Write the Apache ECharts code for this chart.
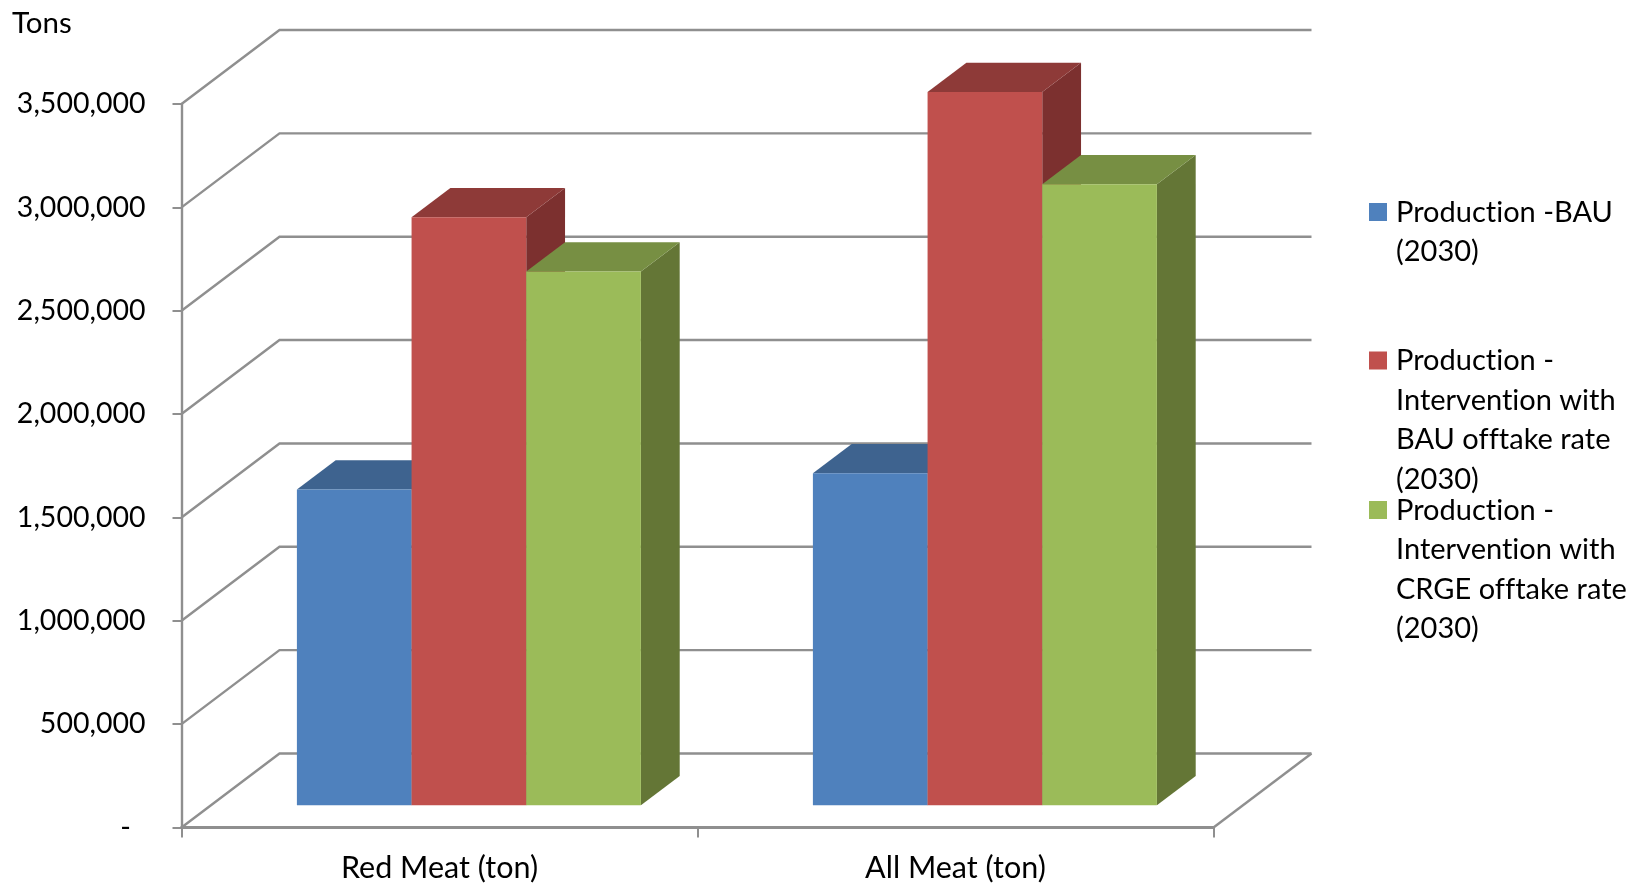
<!DOCTYPE html>
<html>
<head>
<meta charset="utf-8">
<style>html,body{margin:0;padding:0;background:#fff}#c{width:1630px;height:884px}</style>
<script src="https://cdn.jsdelivr.net/npm/echarts@6/dist/echarts.min.js"></script>
</head>
<body>
<div id="c"></div>
<script>
const categories = ['Red Meat (ton)', 'All Meat (ton)'];
const productionBAU = [1528000, 1606000];
const interventionBAU = [2845000, 3451000];
const interventionCRGE = [2582000, 3004000];
const valueTicks = [0, 500000, 1000000, 1500000, 2000000, 2500000, 3000000, 3500000];
const seriesNames = [
  'Production -BAU\n(2030)',
  'Production -\nIntervention with\nBAU offtake rate\n(2030)',
  'Production -\nIntervention with\nCRGE offtake rate\n(2030)'
];
const yTitle = 'Tons';

// The reference face has no "ti" ligature, so turn ligatures off on every canvas.
const nativeGetContext = HTMLCanvasElement.prototype.getContext;
HTMLCanvasElement.prototype.getContext = function (type, opts) {
  const ctx = nativeGetContext.call(this, type, opts);
  if (ctx && type === '2d') ctx.textRendering = 'optimizeSpeed';
  return ctx;
};

const FONT = 'Lato';
const GRID = '#8f8f8f';
const WALL_DX = 98, WALL_DY = -74;
const BAR_FRONT = 0.3, BAR_BACK = 0.696;
const palette = [
  {front: '#4F81BD', top: '#3E638F', side: '#37587F'},
  {front: '#C0504D', top: '#8E3A38', side: '#7C302F'},
  {front: '#9BBB59', top: '#778F43', side: '#647636'}
];

function poly(points, fill) {
  return {type: 'polygon', shape: {points}, style: {fill}, silent: true};
}
function barSeries(name, values, idx) {
  const c = palette[idx];
  return {
    type: 'custom', name, z: 3 + idx,
    itemStyle: {color: c.front},
    encode: {x: 0, y: 1},
    data: values.map((v, i) => [i, v]),
    renderItem(params, api) {
      const cat = api.value(0), val = api.value(1);
      const top = api.coord([cat, val]), base = api.coord([cat, 0]);
      const band = api.size([1, 0])[0];
      const w = band / 4.5;
      const x0 = top[0] - 1.5 * w + idx * w + WALL_DX * BAR_FRONT;
      const x1 = x0 + w;
      const yT = top[1] + WALL_DY * BAR_FRONT;
      const yB = base[1] + WALL_DY * BAR_FRONT;
      const dx = WALL_DX * (BAR_BACK - BAR_FRONT);
      const dy = WALL_DY * (BAR_BACK - BAR_FRONT);
      return {type: 'group', children: [
        poly([[x1, yT], [x1 + dx, yT + dy], [x1 + dx, yB + dy], [x1, yB]], c.side),
        poly([[x0, yT], [x0 + dx, yT + dy], [x1 + dx, yT + dy], [x1, yT]], c.top),
        poly([[x0, yT], [x1, yT], [x1, yB], [x0, yB]], c.front)
      ]};
    }
  };
}
const wallSeries = {
  type: 'custom', name: 'walls', z: 1, silent: true,
  encode: {x: 0, y: 1},
  data: valueTicks.map(v => [0, v]),
  renderItem(params, api) {
    const sys = params.coordSys;
    const y = api.coord([0, api.value(1)])[1];
    const left = sys.x, right = sys.x + sys.width;
    const children = [{
      type: 'polyline', silent: true,
      shape: {points: [[left, y], [left + WALL_DX, y + WALL_DY], [right + WALL_DX, y + WALL_DY]]},
      style: {stroke: GRID, lineWidth: 2.4, fill: null}
    }];
    if (api.value(1) === 0) {
      children.push({
        type: 'line', silent: true,
        shape: {x1: right, y1: y, x2: right + WALL_DX, y2: y + WALL_DY},
        style: {stroke: GRID, lineWidth: 2.4}
      });
    }
    return {type: 'group', children};
  }
};
function legendFor(i, top, lines) {
  const h = lines * 39.5;
  return {
    left: 1369, top, padding: 0, orient: 'vertical', selectedMode: false,
    itemWidth: 22, itemHeight: h,
    icon: `path://M0 0L0 0ZM0 10.5H18V28.5H0ZM22 ${h}L22 ${h}Z`,
    data: [seriesNames[i]],
    textStyle: {fontFamily: FONT, fontSize: 29, lineHeight: 39.5, color: '#000'}
  };
}
const chart = echarts.init(document.getElementById('c'), null, {renderer: 'canvas'});
chart.setOption({
  animation: false,
  backgroundColor: '#fff',
  title: {text: yTitle, left: 12, top: 8, padding: 0,
    textStyle: {fontFamily: FONT, fontSize: 29.5, fontWeight: 'normal', color: '#000'}},
  legend: [legendFor(0, 192.5, 2), legendFor(1, 341, 4), legendFor(2, 490.5, 4)],
  grid: {left: 181.5, top: 104, width: 1032, height: 723.5},
  xAxis: {
    type: 'category', data: categories,
    axisLine: {lineStyle: {color: GRID, width: 2.8}},
    axisTick: {show: true, length: 10, lineStyle: {color: GRID, width: 2}},
    axisLabel: {fontFamily: FONT, fontSize: 30.5, color: '#000', margin: 25},
    splitLine: {show: false}
  },
  yAxis: {
    type: 'value', min: 0, max: 3500000, interval: 500000,
    axisLine: {show: true, lineStyle: {color: GRID, width: 2.4}},
    axisTick: {show: true, length: 9, lineStyle: {color: GRID, width: 2}},
    axisLabel: {fontFamily: FONT, fontSize: 28.5, color: '#000', margin: 36, padding: [2, 0, 0, 0],
      formatter: v => v === 0 ? '-\u00a0\u00a0' : v.toLocaleString('en-US')},
    splitLine: {show: false}
  },
  series: [
    wallSeries,
    barSeries(seriesNames[0], productionBAU, 0),
    barSeries(seriesNames[1], interventionBAU, 1),
    barSeries(seriesNames[2], interventionCRGE, 2)
  ]
});
</script>
</body>
</html>
